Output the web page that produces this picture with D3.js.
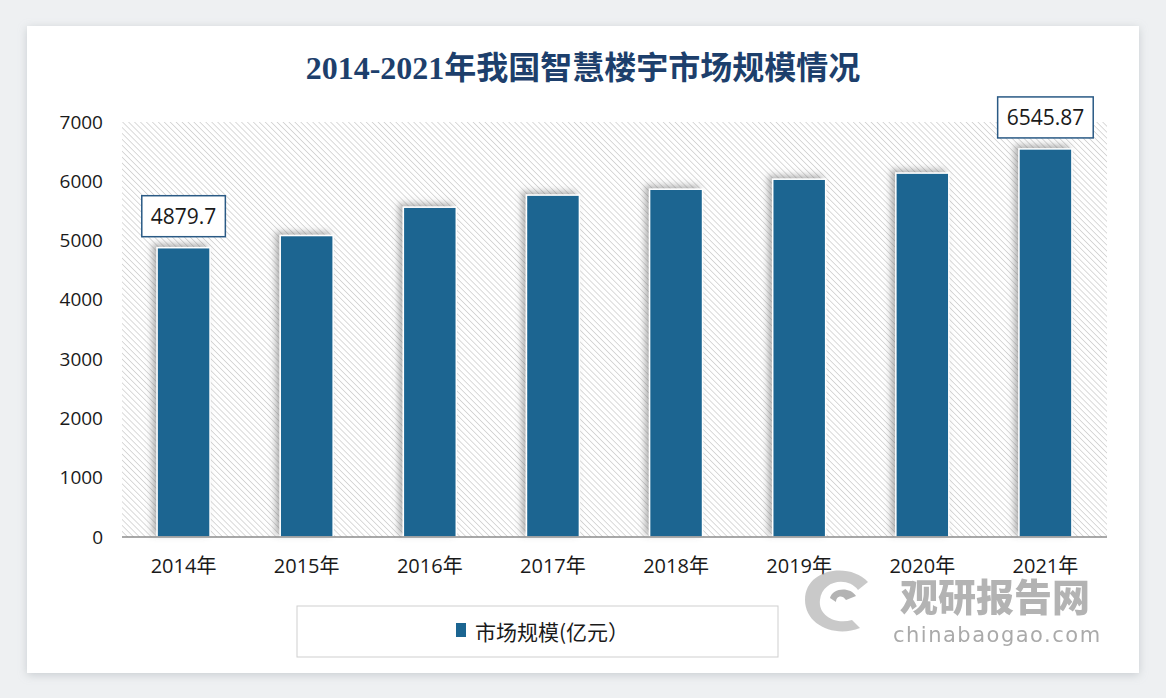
<!DOCTYPE html>
<html>
<head>
<meta charset="utf-8">
<script src="https://cdn.jsdelivr.net/npm/d3@7/dist/d3.min.js"></script>
<style>
  html, body { margin: 0; padding: 0; background: #eef0f2; }
  svg { display: block; }
</style>
</head>
<body>
<svg id="Vis" width="1166" height="698"></svg>
<script>
var years = ["2014年", "2015年", "2016年", "2017年", "2018年", "2019年", "2020年", "2021年"];
var marketSize = [4879.7, 5085, 5563, 5767, 5866, 6035, 6138, 6545.87];
var labelled = ["4879.7", null, null, null, null, null, null, "6545.87"];
var yTicks = [0, 1000, 2000, 3000, 4000, 5000, 6000, 7000];
var titleText = "2014-2021年我国智慧楼宇市场规模情况";
var legendText = "市场规模(亿元）";

var barColor = "#1b6591";
var svg = d3.select("#Vis");
var defs = svg.append("defs");

// card shadow
var cardShadow = defs.append("filter").attr("id", "cardShadow")
  .attr("x", "-5%").attr("y", "-5%").attr("width", "110%").attr("height", "110%");
cardShadow.append("feDropShadow").attr("dx", 0).attr("dy", 2).attr("stdDeviation", 5)
  .attr("flood-color", "#9aa0a8").attr("flood-opacity", 0.45);

// bar shadow (towards upper left)
var barShadow = defs.append("filter").attr("id", "barShadow")
  .attr("x", "-40%").attr("y", "-10%").attr("width", "160%").attr("height", "120%");
barShadow.append("feDropShadow").attr("dx", -4).attr("dy", -3).attr("stdDeviation", 3)
  .attr("flood-color", "#666").attr("flood-opacity", 0.5);

// diagonal hatch, lines running top-left to bottom-right
var hatch = defs.append("pattern").attr("id", "hatch")
  .attr("patternUnits", "userSpaceOnUse").attr("width", 4.2).attr("height", 4.2)
  .attr("patternTransform", "rotate(-45)");
hatch.append("rect").attr("width", 4.2).attr("height", 4.2).attr("fill", "#ffffff");
hatch.append("line").attr("x1", 0).attr("y1", 0).attr("x2", 0).attr("y2", 4.2)
  .attr("stroke", "#c6c6c6").attr("stroke-width", 1.3);

svg.append("rect")
  .attr("x", 27).attr("y", 26).attr("width", 1112).attr("height", 647)
  .attr("fill", "#ffffff").attr("filter", "url(#cardShadow)");

svg.append("text")
  .attr("x", 583).attr("y", 79)
  .attr("text-anchor", "middle")
  .style("font-family", "'Liberation Serif', 'Noto Sans CJK SC', serif")
  .style("font-weight", "bold")
  .style("font-size", "32px")
  .attr("fill", "#1d3f6c")
  .text(titleText);

var plotLeft = 122, plotRight = 1107, plotTop = 122, plotBottom = 537;

var x = d3.scaleBand().domain(years).range([plotLeft, plotRight])
  .paddingInner(0.57).paddingOuter(0.285);
var y = d3.scaleLinear().domain([0, 7000]).range([plotBottom, plotTop]);

svg.append("rect")
  .attr("x", plotLeft).attr("y", plotTop)
  .attr("width", plotRight - plotLeft).attr("height", plotBottom - plotTop)
  .attr("fill", "url(#hatch)");

var yAxis = svg.append("g")
  .attr("transform", "translate(" + plotLeft + ",0)")
  .call(d3.axisLeft(y).tickValues(yTicks).tickFormat(d3.format("d")).tickSize(0).tickPadding(19));
yAxis.select(".domain").remove();
yAxis.selectAll("text")
  .style("font-family", "'Open Sans', 'Noto Sans', sans-serif")
  .style("font-size", "19px")
  .attr("fill", "#1a1a1a");

svg.selectAll(".bar")
  .data(marketSize)
  .enter()
  .append("rect")
  .attr("class", "bar")
  .attr("x", function(d, i) { return x(years[i]); })
  .attr("y", function(d) { return y(d); })
  .attr("width", x.bandwidth())
  .attr("height", function(d) { return y(0) - y(d); })
  .attr("fill", barColor)
  .attr("stroke", "#ffffff")
  .attr("stroke-width", 1.5)
  .attr("filter", "url(#barShadow)");

var xAxis = svg.append("g")
  .attr("transform", "translate(0," + plotBottom + ")")
  .call(d3.axisBottom(x).tickSize(0).tickPadding(22));
xAxis.select(".domain").attr("stroke", "#8c8c8c").attr("stroke-width", 1.5)
  .attr("d", "M" + plotLeft + ",0H" + plotRight);
xAxis.selectAll("text")
  .style("font-family", "'Open Sans', 'Noto Sans CJK SC', sans-serif")
  .style("font-size", "20px")
  .attr("fill", "#1a1a1a");

// data labels
marketSize.forEach(function(d, i) {
  if (!labelled[i]) return;
  var cx = x(years[i]) + x.bandwidth() / 2;
  var boxBottom = y(d) - 11;
  var g = svg.append("g");
  var box = g.append("rect").attr("fill", "#ffffff").attr("stroke", "#2a5a85").attr("stroke-width", 1.5);
  var t = g.append("text")
    .attr("x", cx).attr("y", boxBottom - 13)
    .attr("text-anchor", "middle")
    .style("font-family", "'Open Sans', 'Noto Sans', sans-serif")
    .style("font-size", "21px")
    .attr("fill", "#1a1a1a")
    .text(labelled[i]);
  var bb = t.node().getBBox();
  box.attr("x", cx - bb.width / 2 - 9).attr("y", boxBottom - 41)
    .attr("width", bb.width + 18).attr("height", 41);
});

// legend
svg.append("rect")
  .attr("x", 297).attr("y", 606).attr("width", 481).attr("height", 51)
  .attr("fill", "#ffffff").attr("stroke", "#cfcfcf").attr("stroke-width", 1);
svg.append("rect")
  .attr("x", 456).attr("y", 623).attr("width", 10).attr("height", 14)
  .attr("fill", barColor);
svg.append("text")
  .attr("x", 475).attr("y", 640)
  .style("font-family", "'Noto Sans CJK SC', sans-serif")
  .style("font-size", "21px")
  .attr("fill", "#1a1a1a")
  .text(legendText);

// watermark
var wm = svg.append("g").attr("opacity", 0.75);
wm.append("path")
  .attr("d", "M868,582 C850,562 805,568 805,600 C805,625 835,638 860,628 L852,620 C835,625 818,615 820,600 C822,580 848,576 858,590 Z")
  .attr("fill", "#b8b8b8");
wm.append("path")
  .attr("d", "M830,598 C832,588 850,586 856,596 L846,600 C842,594 836,596 836,602 Z")
  .attr("fill", "#9a9a9a");
wm.append("text")
  .attr("x", 900).attr("y", 611)
  .style("font-family", "'Noto Sans CJK SC', sans-serif")
  .style("font-weight", "900")
  .style("font-size", "38px")
  .attr("fill", "#9a9a9a")
  .text("观研报告网");
wm.append("text")
  .attr("x", 893).attr("y", 642)
  .style("font-family", "'DejaVu Sans', sans-serif")
  .style("font-size", "21px")
  .style("letter-spacing", "1.5px")
  .attr("fill", "#8e8e8e")
  .text("chinabaogao.com");
</script>
</body>
</html>
